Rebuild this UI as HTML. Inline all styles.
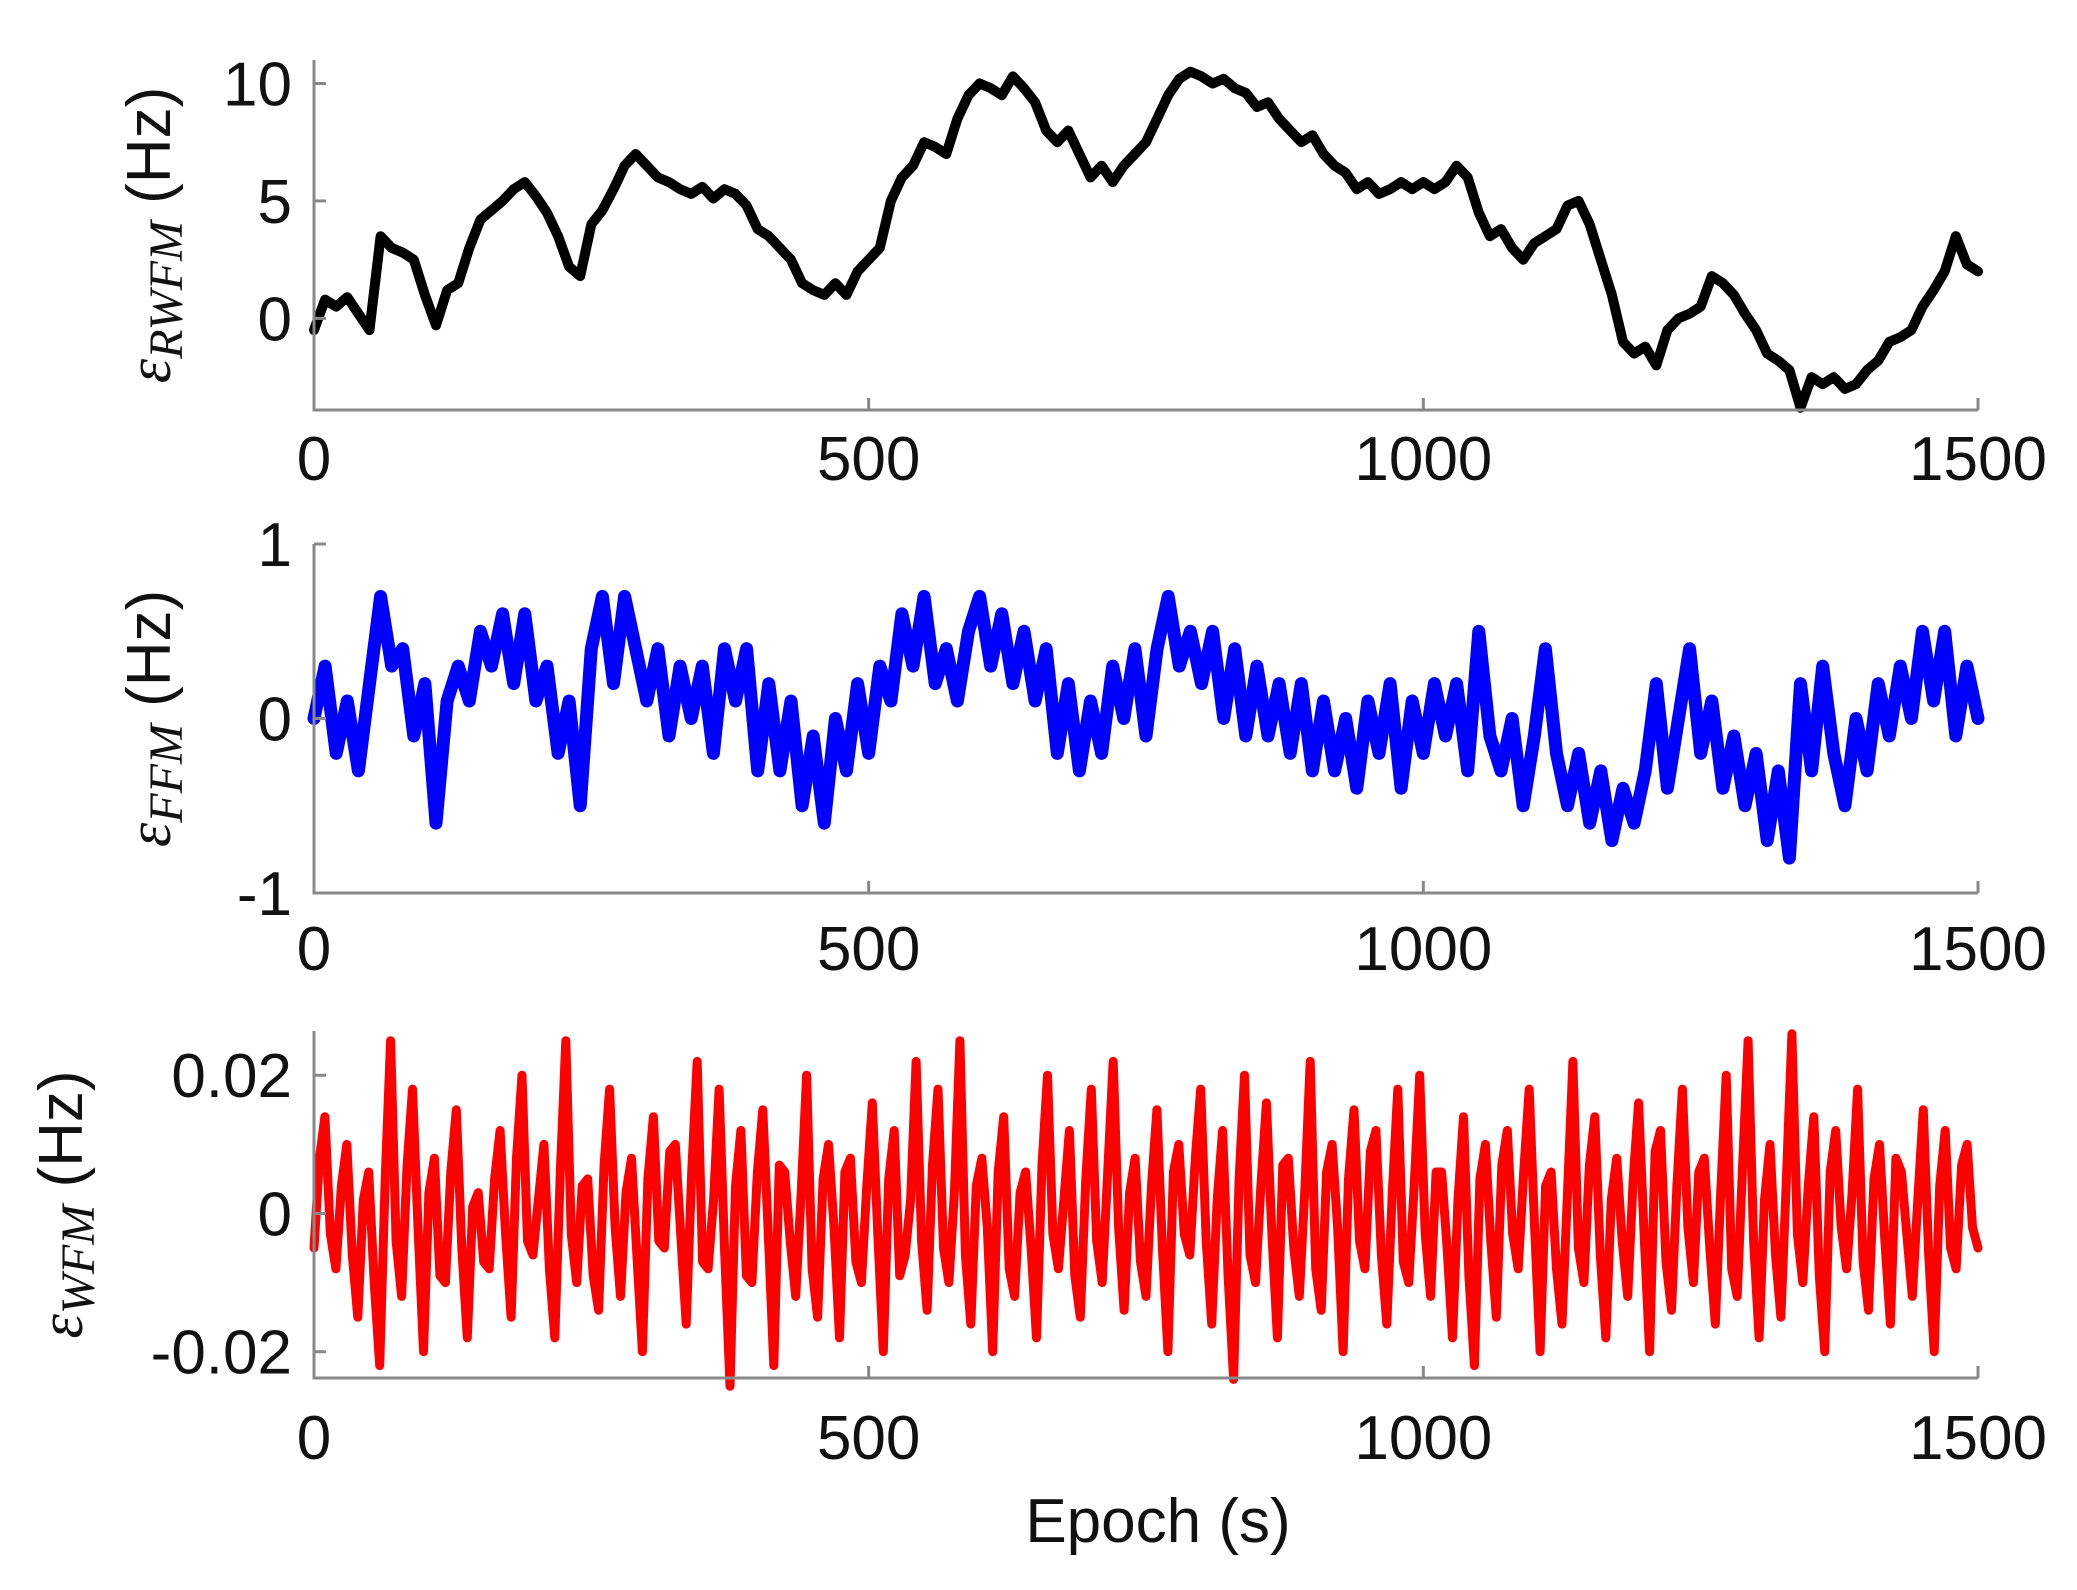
<!DOCTYPE html>
<html><head><meta charset="utf-8">
<style>
html,body{margin:0;padding:0;background:#fff;}
svg{display:block;}
text{font-family:"Liberation Sans",sans-serif;fill:#111;}
</style></head>
<body>
<svg id="chart" width="2077" height="1590" viewBox="0 0 2077 1590" xmlns="http://www.w3.org/2000/svg"></svg>
<script>
const xTicks=[0,500,1000,1500];
const rwfmTicks=[0,5,10];
const ffmTicks=[-1,0,1];
const wfmTicks=[-0.02,0,0.02];
const wfmTickLabels=["-0.02","0","0.02"];
const rwfmValues=[-0.5,0.8,0.5,0.9,0.2,-0.5,3.5,3,2.8,2.5,1,-0.3,1.2,1.5,3,4.2,4.6,5,5.5,5.8,5.2,4.5,3.5,2.2,1.8,4,4.6,5.5,6.5,7,6.5,6,5.8,5.5,5.3,5.6,5.1,5.5,5.3,4.8,3.8,3.5,3,2.5,1.5,1.2,1,1.5,1,2,2.5,3,5,6,6.5,7.5,7.3,7,8.5,9.5,10,9.8,9.5,10.3,9.8,9.2,8,7.5,8,7,6,6.5,5.8,6.5,7,7.5,8.5,9.5,10.2,10.5,10.3,10,10.2,9.8,9.6,9,9.2,8.5,8,7.5,7.8,7,6.5,6.2,5.5,5.8,5.3,5.5,5.8,5.5,5.8,5.5,5.8,6.5,6,4.5,3.5,3.8,3,2.5,3.2,3.5,3.8,4.8,5,4,2.5,1,-1,-1.5,-1.2,-2,-0.5,0,0.2,0.5,1.8,1.5,1,0.2,-0.5,-1.5,-1.8,-2.2,-3.8,-2.5,-2.8,-2.5,-3,-2.8,-2.2,-1.8,-1,-0.8,-0.5,0.5,1.2,2,3.5,2.3,2];
const ffmValues=[0,0.3,-0.2,0.1,-0.3,0.2,0.7,0.3,0.4,-0.1,0.2,-0.6,0.1,0.3,0.1,0.5,0.3,0.6,0.2,0.6,0.1,0.3,-0.2,0.1,-0.5,0.4,0.7,0.2,0.7,0.4,0.1,0.4,-0.1,0.3,0,0.3,-0.2,0.4,0.1,0.4,-0.3,0.2,-0.3,0.1,-0.5,-0.1,-0.6,0,-0.3,0.2,-0.2,0.3,0.1,0.6,0.3,0.7,0.2,0.4,0.1,0.5,0.7,0.3,0.6,0.2,0.5,0.1,0.4,-0.2,0.2,-0.3,0.1,-0.2,0.3,0,0.4,-0.1,0.4,0.7,0.3,0.5,0.2,0.5,0,0.4,-0.1,0.3,-0.1,0.2,-0.2,0.2,-0.3,0.1,-0.3,0,-0.4,0.1,-0.2,0.2,-0.4,0.1,-0.2,0.2,-0.1,0.2,-0.3,0.5,-0.1,-0.3,0,-0.5,-0.1,0.4,-0.2,-0.5,-0.2,-0.6,-0.3,-0.7,-0.4,-0.6,-0.3,0.2,-0.4,0,0.4,-0.2,0.1,-0.4,-0.1,-0.5,-0.2,-0.7,-0.3,-0.8,0.2,-0.3,0.3,-0.2,-0.5,0,-0.3,0.2,-0.1,0.3,0,0.5,0.1,0.5,-0.1,0.3,0];
const wfmValuesMilli=[-5,8,14,-3,-8,4,10,-6,-15,2,6,-10,-22,5,25,-4,-12,7,18,-2,-20,3,8,-9,-10,6,15,-5,-18,1,3,-7,-8,5,12,-3,-15,8,20,-4,-6,2,10,-8,-18,6,25,-3,-10,4,5,-9,-14,7,18,-2,-12,3,8,-6,-20,5,14,-4,-5,9,10,-3,-16,6,22,-7,-8,2,18,-5,-25,4,12,-9,-10,6,15,-3,-22,7,6,-4,-12,3,20,-8,-15,5,10,-2,-18,6,8,-7,-10,4,16,-3,-20,5,12,-9,-6,2,22,-4,-14,7,18,-5,-10,3,25,-6,-16,4,8,-2,-20,6,14,-8,-12,3,6,-5,-18,7,20,-3,-8,2,12,-9,-15,5,18,-4,-10,6,22,-2,-14,3,8,-7,-12,4,15,-5,-20,6,10,-3,-6,8,18,-4,-16,2,12,-9,-24,5,20,-6,-10,4,16,-3,-18,7,8,-5,-12,3,22,-8,-14,6,10,-2,-20,5,15,-4,-8,9,12,-6,-16,3,18,-7,-10,4,20,-3,-12,6,6,-5,-18,2,14,-9,-22,5,10,-4,-15,7,12,-3,-8,6,18,-2,-20,4,6,-8,-16,3,22,-5,-10,7,14,-6,-18,2,8,-4,-12,5,16,-3,-20,9,12,-7,-14,4,18,-2,-10,6,8,-5,-16,3,20,-8,-12,7,25,-4,-18,2,10,-6,-15,5,26,-3,-10,4,14,-9,-20,6,12,-2,-8,3,18,-7,-14,5,10,-4,-16,8,6,-3,-12,2,15,-6,-20,4,12,-5,-8,7,10,-2,-5];

const NS="http://www.w3.org/2000/svg";
const svg=document.getElementById('chart');
const X0=314,X1=1978;
function xs(t){return X0+(t/1500)*(X1-X0);}
function mk(tag,attrs,parent){const e=document.createElementNS(NS,tag);for(const k in attrs)e.setAttribute(k,attrs[k]);(parent||svg).appendChild(e);return e;}

const panels=[
 {name:'rwfm',top:60,bottom:410,ymin:-3.9,ymax:11,ticks:rwfmTicks,labels:rwfmTicks.map(String),vals:rwfmValues,color:'#000',lw:10,xlabY:480,labX:150,labSub:'RWFM'},
 {name:'ffm',top:544,bottom:893,ymin:-1,ymax:1,ticks:ffmTicks,labels:ffmTicks.map(String),vals:ffmValues,color:'#0000ff',lw:13,xlabY:970,labX:150,labSub:'FFM'},
 {name:'wfm',top:1031,bottom:1378,ymin:-0.0238,ymax:0.0264,ticks:wfmTicks,labels:wfmTickLabels,vals:wfmValuesMilli.map(v=>v/1000),color:'#ff0000',lw:9,xlabY:1459,labX:62,labSub:'WFM'}
];
panels.forEach(p=>{
  const g=mk('g',{});
  
  
  const ys=v=>p.bottom-(v-p.ymin)/(p.ymax-p.ymin)*(p.bottom-p.top);
  const n=p.vals.length;
  const pts=p.vals.map((v,i)=>xs(i*1500/(n-1)).toFixed(1)+','+ys(v).toFixed(1)).join(' ');
  const line=mk('polyline',{points:pts,fill:'none',stroke:p.color,'stroke-width':p.lw,'stroke-linejoin':'round','stroke-linecap':'round'},g);
  
  
  const ax=mk('path',{d:`M${X0},${p.top} L${X0},${p.bottom} L${X1},${p.bottom}`,fill:'none',stroke:'#888','stroke-width':3},g);
  
  
  p.ticks.forEach((t,i)=>{
    const y=ys(t);
    mk('line',{x1:X0,y1:y,x2:X0+12,y2:y,stroke:'#888','stroke-width':3},g);
    const tx=mk('text',{x:292,y:y+22,'text-anchor':'end','font-size':62},g);
    tx.textContent=p.labels[i];
    
    
  });
  xTicks.forEach(t=>{
    const x=xs(t);
    mk('line',{x1:x,y1:p.bottom,x2:x,y2:p.bottom-12,stroke:'#888','stroke-width':3},g);
    const tx=mk('text',{x:x,y:p.xlabY,'text-anchor':'middle','font-size':62},g);
    tx.textContent=String(t);
    
    
  });
  const cy=(p.top+p.bottom)/2;
  const yl=mk('text',{transform:`translate(${p.labX+20},${cy}) rotate(-90)`,'text-anchor':'middle','font-size':62},g);
  
  
  const e=mk('tspan',{'font-family':'Liberation Serif, serif','font-style':'italic'},yl);e.textContent='ε';
  const s=mk('tspan',{'font-family':'Liberation Serif, serif','font-style':'italic','font-size':48,dy:12},yl);s.textContent=p.labSub;
  const h=mk('tspan',{dy:-12},yl);h.textContent=' (Hz)';
});
const xt=mk('text',{x:1158,y:1542,'text-anchor':'middle','font-size':62});
xt.textContent='Epoch (s)';


</script>
</body></html>
